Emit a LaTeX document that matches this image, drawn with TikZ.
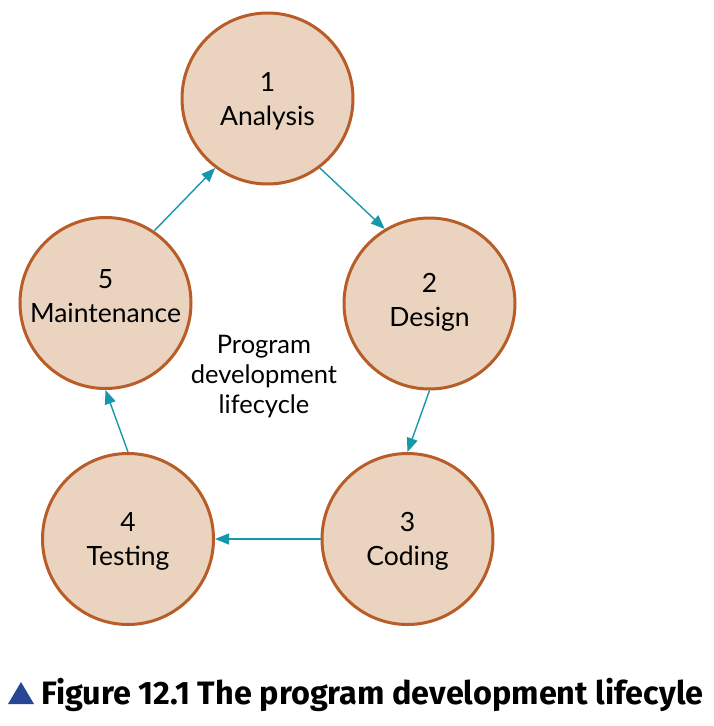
\documentclass[tikz,border=0pt]{standalone}
\usepackage{fontspec}
\setmainfont{Lato}
\newfontfamily\capfont{Fira Sans}
\usetikzlibrary{arrows.meta}
\definecolor{stagefill}{RGB}{234,212,192}
\definecolor{stageline}{RGB}{184,92,40}
\definecolor{flowline}{RGB}{22,152,172}
\definecolor{capblue}{RGB}{40,70,150}
\newcommand{\twoline}[2]{\begin{tabular}[b]{@{}c@{}}#1\\#2\end{tabular}}
\tikzset{
  stage/.style={circle, draw=stageline, fill=stagefill, line width=3pt,
    minimum size=171pt, inner sep=0pt},
  stagetext/.style={anchor=base, inner sep=0pt, font=\fontsize{26.5}{33.3}\selectfont},
  flow/.style={draw=flowline, line width=1.4pt, -{Triangle[length=14pt,width=11pt]}}
}
\begin{document}
\begin{tikzpicture}[x=1pt,y=-1pt]
\useasboundingbox (0,0) rectangle (714,726);
\node[stage] (A) at (267.5,98.5) {};
\node[stage] (D) at (429.5,303.5) {};
\node[stage] (C) at (407.5,539) {};
\node[stage] (T) at (128,539) {};
\node[stage] (M) at (105.5,303) {};
\node[stagetext] (At) at ([yshift=-26.5pt]A.center) {\twoline{1}{Analysis}};
\node[stagetext] (Dt) at ([yshift=-22.5pt]D.center) {\twoline{2}{Design}};
\node[stagetext] (Ct) at ([yshift=-26pt]C.center) {\twoline{3}{Coding}};
\node[stagetext] (Tt) at ([yshift=-26pt]T.center) {\twoline{4}{Testing}};
\node[stagetext] (Mt) at ([yshift=-19pt]M.center) {\twoline{5}{Maintenance}};
\node[anchor=base, inner sep=0pt, font=\fontsize{25.5}{30}\selectfont] (L) at (264,353)
  {\begin{tabular}[t]{@{}c@{}}Program\\development\\lifecycle\end{tabular}};
\draw[flow] (A.307.6) -- (D.121.8);
\draw[flow] (D.south) -- (C.north);
\draw[flow] (C.west) -- (T.east);
\draw[flow] (T.north) -- (M.south);
\draw[flow] (M.56) -- (A.233);
\fill[capblue] (8,704) -- (34,704) -- (21,682) -- cycle;
\node[anchor=base west, inner sep=0pt] (cap) at (41,704)
  {\resizebox{662pt}{!}{\capfont\bfseries Figure 12.1 The program development lifecyle}};
\end{tikzpicture}
\end{document}
